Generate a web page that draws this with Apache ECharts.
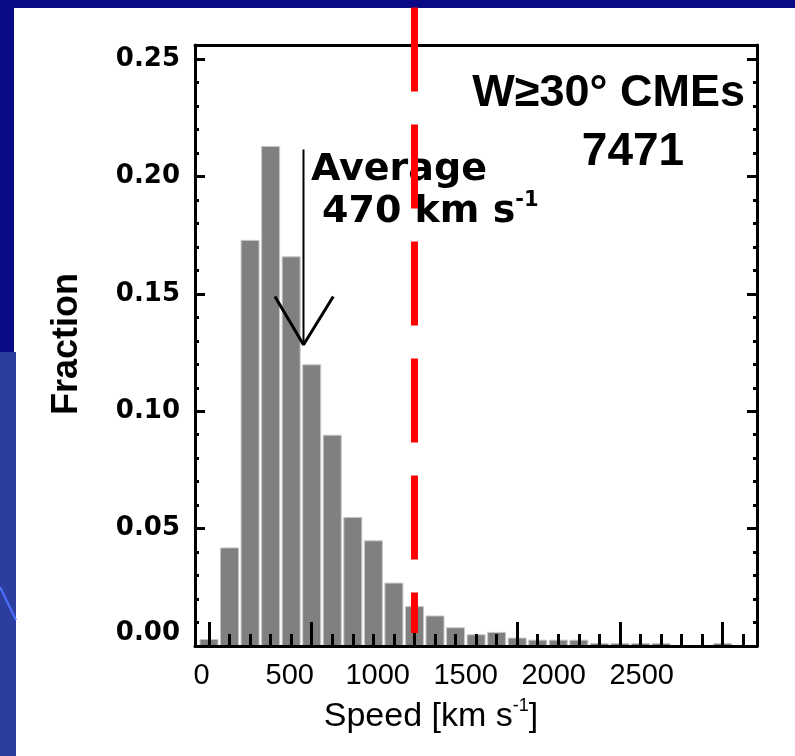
<!DOCTYPE html>
<html>
<head>
<meta charset="utf-8">
<script src="https://cdn.jsdelivr.net/npm/echarts@6/dist/echarts.min.js"></script>
<style>
html, body { margin: 0; padding: 0; width: 795px; height: 756px; overflow: hidden; background: #0a0a84; }
#panel { position: absolute; left: 14px; top: 8px; right: 0; bottom: 0; background: #fff; }
#strip { position: absolute; left: 0; top: 352px; width: 16px; bottom: 0; background: #2b3d9f; }
#chart { position: absolute; left: 0; top: 0; width: 795px; height: 756px; }
</style>
</head>
<body>
<div id="panel"></div>
<div id="strip"></div>
<div id="chart"></div>
<script>
// histogram: bin centres (km/s) and fraction of CMEs per bin
const speedBins = [0, 100, 200, 300, 400, 500, 600, 700, 800, 900, 1000, 1100, 1200, 1300,
    1400, 1500, 1600, 1700, 1800, 1900, 2000, 2100, 2200, 2300, 2400, 2500, 2600];
const fraction = [0.003, 0.042, 0.173, 0.213, 0.166, 0.120, 0.090, 0.055, 0.045, 0.027, 0.017, 0.013, 0.008, 0.005,
    0.006, 0.0036, 0.0027, 0.0027, 0.0027, 0.0013, 0.0013, 0.0013, 0.0013, 0.0004, 0.0004, 0.0013, 0.0003];

// ticks and labels
const xMajorTicks = [0, 500, 1000, 1500, 2000, 2500];
const xMinorTicks = [0, 100, 200, 300, 400, 500, 600, 700, 800, 900, 1000, 1100, 1200, 1300,
    1400, 1500, 1600, 1700, 1800, 1900, 2000, 2100, 2200, 2300, 2400, 2500, 2600];
const xTickLabels = [0, 500, 1000, 1500, 2000, 2500];
const yMajorTicks = [0, 0.05, 0.10, 0.15, 0.20, 0.25];
const yMinorTicks = [0.01, 0.02, 0.03, 0.04, 0.06, 0.07, 0.08, 0.09, 0.11, 0.12, 0.13, 0.14,
    0.16, 0.17, 0.18, 0.19, 0.21, 0.22, 0.23, 0.24];

// 1000 km/s cut (red dashes) and the average arrow
const cutSpeed = [1000, 1000];
const cutFrac = [0.272, 0.0055];
const avgShaftX = [460, 460];
const avgShaftY = [0.2115, 0.1283];
const avgHeadX = [321, 460, 605];
const avgHeadY = [0.1489, 0.1283, 0.1489];

const xMin = -68, xMax = 2667;
const yMin = 0, yMax = 0.256;
const black = '#000';

// an axis that only draws inward ticks at the given values
function tickAxis(pos, len, ticks, extra) {
    return Object.assign({
        type: 'value', position: pos, z: 5,
        axisLine: { show: false, onZero: false },
        axisTick: { show: true, inside: true, length: len, customValues: ticks, lineStyle: { color: black, width: 3 } },
        axisLabel: { show: true, customValues: ticks, formatter: () => '' },
        splitLine: { show: false }
    }, extra);
}

const chart = echarts.init(document.getElementById('chart'));
chart.setOption({
    animation: false,
    backgroundColor: 'transparent',
    grid: { left: 195, right: 38, top: 45, bottom: 110 },
    xAxis: [
        tickAxis('bottom', 24, xMajorTicks, {
            min: xMin, max: xMax,
            axisLine: { show: true, onZero: false, lineStyle: { color: black, width: 3 } }
        }),
        tickAxis('bottom', 12, xMinorTicks, { min: xMin, max: xMax }),
        {
            // labels sit where the original figure puts them
            type: 'value', position: 'bottom', min: -38, max: 3155,
            axisLine: { show: false, onZero: false },
            axisTick: { show: false },
            splitLine: { show: false },
            axisLabel: {
                show: true, customValues: xTickLabels, formatter: v => String(v),
                margin: 15, color: black, fontFamily: 'Liberation Sans', fontSize: 29
            }
        },
        {
            type: 'value', position: 'top', min: xMin, max: xMax,
            axisLine: { show: true, onZero: false, lineStyle: { color: black, width: 3 } },
            axisTick: { show: false }, axisLabel: { show: false }, splitLine: { show: false }
        }
    ],
    yAxis: [
        tickAxis('left', 10, yMajorTicks, {
            min: yMin, max: yMax,
            axisLine: { show: true, onZero: false, lineStyle: { color: black, width: 3 } },
            axisLabel: {
                show: true, customValues: yMajorTicks, formatter: v => v.toFixed(2),
                margin: 15, color: black, fontFamily: 'DejaVu Sans', fontWeight: 'bold', fontSize: 26,
                verticalAlignMinLabel: 'bottom'
            }
        }),
        tickAxis('left', 4, yMinorTicks, { min: yMin, max: yMax }),
        tickAxis('right', 10, yMajorTicks, {
            min: yMin, max: yMax,
            axisLine: { show: true, onZero: false, lineStyle: { color: black, width: 3 } }
        }),
        tickAxis('right', 4, yMinorTicks, { min: yMin, max: yMax })
    ],
    series: [
        {
            type: 'bar',
            data: speedBins.map((s, i) => [s, fraction[i]]),
            barWidth: 19,
            itemStyle: { color: '#808080', borderColor: '#c8c8c8', borderWidth: 1 },
            z: 2
        },
        {
            type: 'line',
            data: cutSpeed.map((s, i) => [s, cutFrac[i]]),
            symbol: 'none', clip: false, silent: true, z: 10,
            lineStyle: { color: '#ff0000', width: 7, type: [84, 33], cap: 'butt' }
        },
        {
            type: 'line',
            data: avgShaftX.map((s, i) => [s, avgShaftY[i]]),
            symbol: 'none', silent: true, z: 8,
            lineStyle: { color: black, width: 2 }
        },
        {
            type: 'line',
            data: avgHeadX.map((s, i) => [s, avgHeadY[i]]),
            symbol: 'none', silent: true, z: 8,
            lineStyle: { color: black, width: 3 }
        }
    ],
    graphic: [
        {
            type: 'line', shape: { x1: 0, y1: 587, x2: 16, y2: 620 },
            style: { stroke: '#4f6fff', lineWidth: 2 }
        },
        {
            type: 'text', x: 67, y: 344, rotation: Math.PI / 2,
            style: { text: 'Fraction', fill: black, font: 'bold 36px "Liberation Sans", Arial, sans-serif', align: 'center', verticalAlign: 'middle' }
        },
        {
            type: 'text', x: 431, y: 717,
            style: {
                text: '{a|Speed [km s}{s|-1}{a|]}', align: 'center', verticalAlign: 'middle',
                rich: {
                    a: { fontFamily: 'Liberation Sans', fontSize: 34, lineHeight: 40, fill: black },
                    s: { fontFamily: 'Liberation Sans', fontSize: 18, lineHeight: 26, verticalAlign: 'top', fill: black }
                }
            }
        },
        {
            type: 'text', x: 311, y: 170,
            style: { text: 'Average', fill: black, font: 'bold 38px "DejaVu Sans", sans-serif', align: 'left', verticalAlign: 'middle' }
        },
        {
            type: 'text', x: 322, y: 212,
            style: {
                text: '{a|470 km s}{s|-1}', align: 'left', verticalAlign: 'middle',
                rich: {
                    a: { fontFamily: 'DejaVu Sans', fontWeight: 'bold', fontSize: 38, lineHeight: 44, fill: black },
                    s: { fontFamily: 'DejaVu Sans', fontWeight: 'bold', fontSize: 21, lineHeight: 28, verticalAlign: 'top', fill: black }
                }
            }
        },
        {
            type: 'text', x: 745, y: 94,
            style: { text: 'W\u226530\u00b0 CMEs', fill: black, font: 'bold 45px "Liberation Sans", Arial, sans-serif', align: 'right', verticalAlign: 'middle' }
        },
        {
            type: 'text', x: 633, y: 152,
            style: { text: '7471', fill: black, font: 'bold 46px "Liberation Sans", Arial, sans-serif', align: 'center', verticalAlign: 'middle' }
        }
    ]
});
</script>
</body>
</html>
